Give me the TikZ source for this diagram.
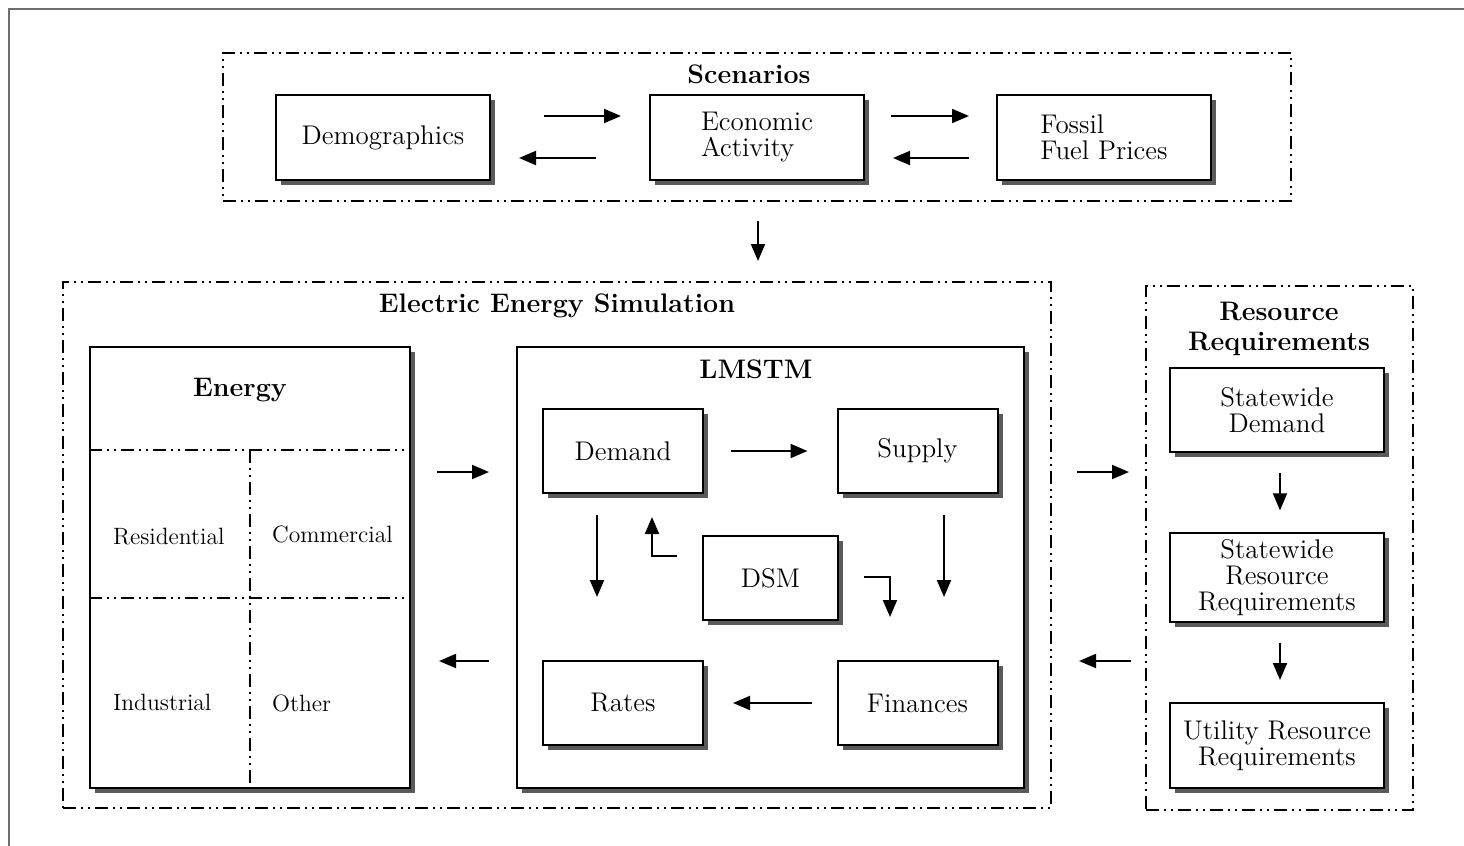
\documentclass[tikz,border=0pt]{standalone}
\usepackage{tikz}
\usetikzlibrary{arrows.meta, positioning, calc, shadows}
\definecolor{frameGray}{HTML}{6E6E6E}
\definecolor{shadowGray}{HTML}{5A5A5A}
\tikzset{
  arrowK/.style={-{Triangle[length=8.5pt, width=7pt]}, line width=1pt, black},
  boxS/.style={rectangle, draw=black, line width=1pt, fill=white, align=center,
               font=\fontsize{13.5}{13}\selectfont, inner sep=3pt,
               drop shadow={shadow xshift=2.5pt, shadow yshift=-2.5pt,
                            fill=shadowGray, opacity=1}},
  boxW/.style={boxS, minimum width=107pt, minimum height=42.5pt},
  boxN/.style={boxS, minimum width=80pt, minimum height=42pt},
  groupD/.style={draw=black, line width=1pt,
                 dash pattern=on 6.5pt off 2.5pt on 1pt off 2.5pt on 1pt off 2.5pt},
  titleB/.style={font=\bfseries\fontsize{13.4}{15}\selectfont, align=center},
  sectorL/.style={anchor=west, font=\fontsize{11.8}{13}\selectfont},
}

\begin{document}
\begin{tikzpicture}[x=0.5pt, y=-0.5pt]
    \useasboundingbox (0,0) rectangle (1464,846);
    \draw[frameGray, line width=1.3pt] (9,900) -- (9,9) -- (1500,9);

    % scenarios
    \node[groupD, minimum width=534pt, minimum height=74pt] (scen) at (757,127) {};
    \node[titleB] (scenT) at (749,74) {Scenarios};
    \node[boxW] (demo) at (383,137.5) {Demographics};
    \node[boxW, align=left] (econ) at (757,137.5) {Economic\\Activity};
    \node[boxW, align=left] (fossil) at (1104,137.5) {Fossil\\Fuel Prices};
    \draw[arrowK, shorten <=26.5pt, shorten >=14pt] ([yshift=10.75pt]demo.east) -- ([yshift=10.75pt]econ.west);
    \draw[arrowK, shorten <=26.5pt, shorten >=14pt] ([yshift=-10.25pt]econ.west) -- ([yshift=-10.25pt]demo.east);
    \draw[arrowK, shorten <=13pt, shorten >=13.5pt] ([yshift=10.75pt]econ.east) -- ([yshift=10.75pt]fossil.west);
    \draw[arrowK, shorten <=13.5pt, shorten >=14pt] ([yshift=-10.25pt]fossil.west) -- ([yshift=-10.25pt]econ.east);

    % electric energy simulation
    \node[groupD, minimum width=494pt, minimum height=263pt] (elec) at (557,545) {};
    \node[titleB] (elecT) at (557,306) {Electric Energy Simulation};
    \draw[arrowK, shorten <=9.5pt, shorten >=10pt] ([xshift=0.5pt]scen.south) -- ([xshift=0.5pt]scen.south |- elec.north);

    \node[boxS, minimum width=160pt, minimum height=220.5pt] (energy) at (250,567.5) {};
    \node[titleB] (energyT) at (240,390) {Energy};
    \coordinate (cut1) at ([yshift=-52pt]energy.north);
    \coordinate (cut2) at ([yshift=-126pt]energy.north);
    \draw[groupD] (cut1 -| energy.west) -- (cut1 -| energy.east);
    \draw[groupD] (cut2 -| energy.west) -- (cut2 -| energy.east);
    \draw[groupD] (cut1) -- (energy.south);
    \node[sectorL] (resid) at (106,537) {Residential};
    \node[sectorL] (comm) at (265,534) {Commercial};
    \node[sectorL] (indus) at (106,702) {Industrial};
    \node[sectorL] (other) at (265,703) {Other};

    \node[boxS, minimum width=253.5pt, minimum height=220.5pt] (lmstm) at (770.5,567.5) {};
    \node[titleB] (lmstmT) at (756,369) {LMSTM};
    \node[boxN] (demand) at (623,451) {Demand};
    \node[boxN] (supply) at (917.5,451) {Supply};
    \node[boxN, minimum width=67.5pt] (dsm) at (770.5,578) {DSM};
    \node[boxN] (rates) at (623,703) {Rates};
    \node[boxN] (fin) at (917.5,703) {Finances};
    \draw[arrowK, shorten <=13.5pt, shorten >=14.5pt] (demand) -- (supply);
    \draw[arrowK, shorten <=10.5pt, shorten >=31.5pt] ([xshift=-13pt]demand.south) -- ([xshift=-13pt]rates.north);
    \draw[arrowK, shorten <=10.5pt, shorten >=31.5pt] ([xshift=13.25pt]supply.south) -- ([xshift=13.25pt]fin.north);
    \draw[arrowK, shorten <=12.5pt, shorten >=14.5pt] (fin) -- (rates);
    \draw[arrowK, shorten >=11.5pt] ([xshift=-12.5pt, yshift=11pt]dsm.west) -| ([xshift=14.5pt]demand.south);
    \draw[arrowK, shorten >=21.5pt] ([xshift=12.5pt, yshift=0.5pt]dsm.east) -| ([xshift=-13.75pt]fin.north);

    % resource requirements
    \node[groupD, minimum width=133.5pt, minimum height=262pt] (res) at (1279.5,548) {};
    \node[titleB] (resT) at (1279,329) {Resource\\Requirements};
    \node[boxW, minimum height=42pt] (sd) at (1277,410) {Statewide\\Demand};
    \node[boxW] (srr) at (1277,577.5) {Statewide\\Resource\\Requirements};
    \node[boxW] (urr) at (1277,745.5) {Utility Resource\\Requirements};
    \draw[arrowK, shorten <=10pt, shorten >=11pt] ([xshift=1.5pt]sd.south) -- ([xshift=1.5pt]srr.north);
    \draw[arrowK, shorten <=10pt, shorten >=11pt] ([xshift=1.5pt]srr.south) -- ([xshift=1.5pt]urr.north);

    % links between blocks
    \coordinate (hiY) at ([yshift=47.75pt]lmstm.east);
    \coordinate (loY) at ([yshift=-46.75pt]lmstm.east);
    \draw[arrowK, shorten <=13pt, shorten >=13.5pt] (hiY -| energy.east) -- (hiY -| lmstm.west);
    \draw[arrowK, shorten <=13.5pt, shorten >=14pt] (loY -| lmstm.west) -- (loY -| energy.east);
    \draw[arrowK, shorten <=12.5pt, shorten >=8pt] (hiY -| elec.east) -- (hiY -| res.west);
    \draw[arrowK, shorten <=7pt, shorten >=13.5pt] (loY -| res.west) -- (loY -| elec.east);
\end{tikzpicture}
\end{document}
